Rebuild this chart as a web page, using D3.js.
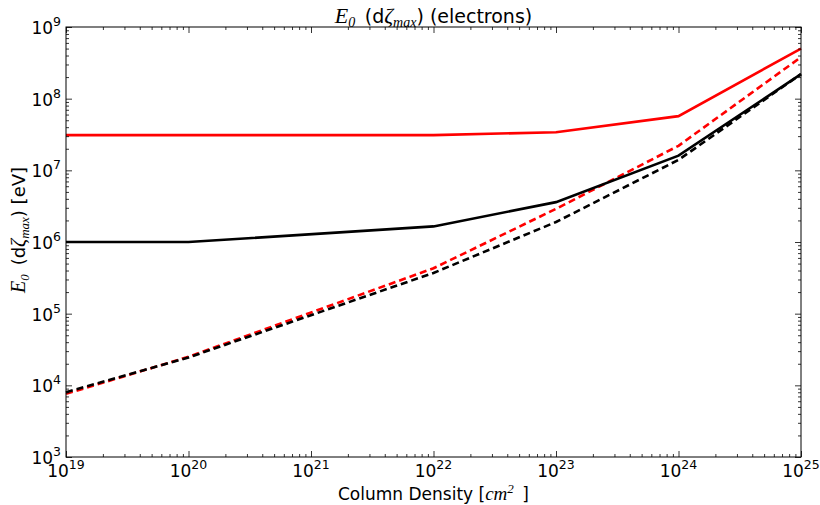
<!DOCTYPE html>
<html>
<head>
<meta charset="utf-8">
<script src="https://cdn.jsdelivr.net/npm/d3@7"></script>
<style>
  body { margin: 0; background: #fff; }
  text { font-family: "DejaVu Sans", sans-serif; }
  .m { font-family: "Liberation Serif", "DejaVu Serif", serif; font-style: italic; }
</style>
</head>
<body>
<div id="chart"></div>
<script>
// column density (cm^-2)
const columnDensity = [1e19, 1e20, 1e22, 1e23, 1e24, 1e25];
const redSolid   = [3.1e7, 3.1e7, 3.1e7, 3.4e7, 5.7e7, 5.0e8];
const blackSolid = [1.0e6, 1.0e6, 1.65e6, 3.6e6, 1.6e7, 2.2e8];
const redDashed  = [7.6e3, 2.5e4, 4.3e5, 2.9e6, 2.2e7, 3.8e8];
const blackDashed= [8.0e3, 2.45e4, 3.7e5, 1.9e6, 1.4e7, 2.2e8];
const xExps = [19, 20, 21, 22, 23, 24, 25];
const yExps = [3, 4, 5, 6, 7, 8, 9];

const width = 820, height = 505;
const margin = {top: 27, right: 19, bottom: 48, left: 66};
const innerW = width - margin.left - margin.right;
const innerH = height - margin.top - margin.bottom;

const svg = d3.select('#chart').append('svg')
    .attr('width', width)
    .attr('height', height);

const x = d3.scaleLog().domain([1e19, 1e25]).range([0, innerW]);
const y = d3.scaleLog().domain([1e3, 1e9]).range([innerH, 0]);

const g = svg.append('g')
    .attr('transform', `translate(${margin.left},${margin.top})`);

// minor tick values
const minorX = [], minorY = [];
xExps.slice(0, -1).forEach(e => { for (let k = 2; k < 10; k++) minorX.push(k * Math.pow(10, e)); });
yExps.slice(0, -1).forEach(e => { for (let k = 2; k < 10; k++) minorY.push(k * Math.pow(10, e)); });
const majorX = xExps.map(e => Math.pow(10, e));
const majorY = yExps.map(e => Math.pow(10, e));

// lines
const line = d3.line()
    .x((d, i) => x(columnDensity[i]))
    .y(d => y(d));

const series = [
  {vals: redDashed, color: '#ff0000', dash: '7,4'},
  {vals: blackDashed, color: '#000000', dash: '7,4'},
  {vals: redSolid, color: '#ff0000', dash: null},
  {vals: blackSolid, color: '#000000', dash: null}
];

g.selectAll('path.series')
    .data(series)
    .enter()
    .append('path')
    .attr('class', 'series')
    .attr('d', d => line(d.vals))
    .attr('fill', 'none')
    .attr('stroke', d => d.color)
    .attr('stroke-width', 2.6)
    .attr('stroke-dasharray', d => d.dash);

// axes: ticks pointing inward on all four sides
function tickAxis(gen, vals, size) {
  return gen.tickValues(vals).tickSize(size).tickFormat('');
}
const axStyle = sel => {
  sel.select('.domain').remove();
  sel.selectAll('line').attr('stroke', '#000').attr('stroke-width', 0.8);
};

g.append('g').attr('transform', `translate(0,${innerH})`)
  .call(tickAxis(d3.axisTop(x), majorX, 6)).call(axStyle);
g.append('g').attr('transform', `translate(0,${innerH})`)
  .call(tickAxis(d3.axisTop(x), minorX, 3)).call(axStyle);
g.append('g')
  .call(tickAxis(d3.axisBottom(x), majorX, 6)).call(axStyle);
g.append('g')
  .call(tickAxis(d3.axisBottom(x), minorX, 3)).call(axStyle);
g.append('g')
  .call(tickAxis(d3.axisRight(y), majorY, 6)).call(axStyle);
g.append('g')
  .call(tickAxis(d3.axisRight(y), minorY, 3)).call(axStyle);
g.append('g').attr('transform', `translate(${innerW},0)`)
  .call(tickAxis(d3.axisLeft(y), majorY, 6)).call(axStyle);
g.append('g').attr('transform', `translate(${innerW},0)`)
  .call(tickAxis(d3.axisLeft(y), minorY, 3)).call(axStyle);

// frame
g.append('rect')
    .attr('width', innerW).attr('height', innerH)
    .attr('fill', 'none').attr('stroke', '#000').attr('stroke-width', 1);

// tick labels
const xl = g.append('g').selectAll('text')
    .data(xExps).enter().append('text')
    .attr('x', d => x(Math.pow(10, d)))
    .attr('y', innerH + 20)
    .attr('text-anchor', 'middle')
    .attr('font-size', 17);
xl.append('tspan').text('10');
xl.append('tspan').attr('dy', -8).attr('font-size', 12.5).text(d => d);

const yl = g.append('g').selectAll('text')
    .data(yExps).enter().append('text')
    .attr('x', -5)
    .attr('y', d => y(Math.pow(10, d)) + 7)
    .attr('text-anchor', 'end')
    .attr('font-size', 17);
yl.append('tspan').text('10');
yl.append('tspan').attr('dy', -8).attr('font-size', 12.5).text(d => d);

// title
const title = svg.append('text')
    .attr('x', margin.left + innerW / 2)
    .attr('y', 23)
    .attr('text-anchor', 'middle')
    .attr('font-size', 19);
title.append('tspan').attr('class', 'm').attr('font-size', 22).text('E');
title.append('tspan').attr('class', 'm').attr('font-size', 14).attr('dy', 4).text('0');
title.append('tspan').attr('dy', -4).text('\u2002(d');
title.append('tspan').attr('class', 'm').attr('font-size', 22).text('\u03b6');
title.append('tspan').attr('class', 'm').attr('font-size', 14).attr('dy', 4).text('max');
title.append('tspan').attr('dy', -4).text(') (electrons)');

// x label
const xlab = svg.append('text')
    .attr('x', margin.left + innerW / 2)
    .attr('y', height - 5)
    .attr('text-anchor', 'middle')
    .attr('font-size', 17);
xlab.append('tspan').text('Column Density [');
xlab.append('tspan').attr('class', 'm').attr('font-size', 19).text('cm');
xlab.append('tspan').attr('class', 'm').attr('font-size', 13).attr('dy', -7).text('2');
xlab.append('tspan').attr('dy', 7).text('\u2002]');

// y label
const ylab = svg.append('text')
    .attr('transform', `translate(25,${margin.top + 203}) rotate(-90)`)
    .attr('text-anchor', 'middle')
    .attr('font-size', 18);
ylab.append('tspan').attr('class', 'm').attr('font-size', 20).text('E');
ylab.append('tspan').attr('class', 'm').attr('font-size', 13).attr('dy', 4).text('0');
ylab.append('tspan').attr('dy', -4).text('\u2002(d');
ylab.append('tspan').attr('class', 'm').attr('font-size', 20).text('\u03b6');
ylab.append('tspan').attr('class', 'm').attr('font-size', 13).attr('dy', 4).text('max');
ylab.append('tspan').attr('dy', -4).text(') [eV]');
</script>
</body>
</html>
